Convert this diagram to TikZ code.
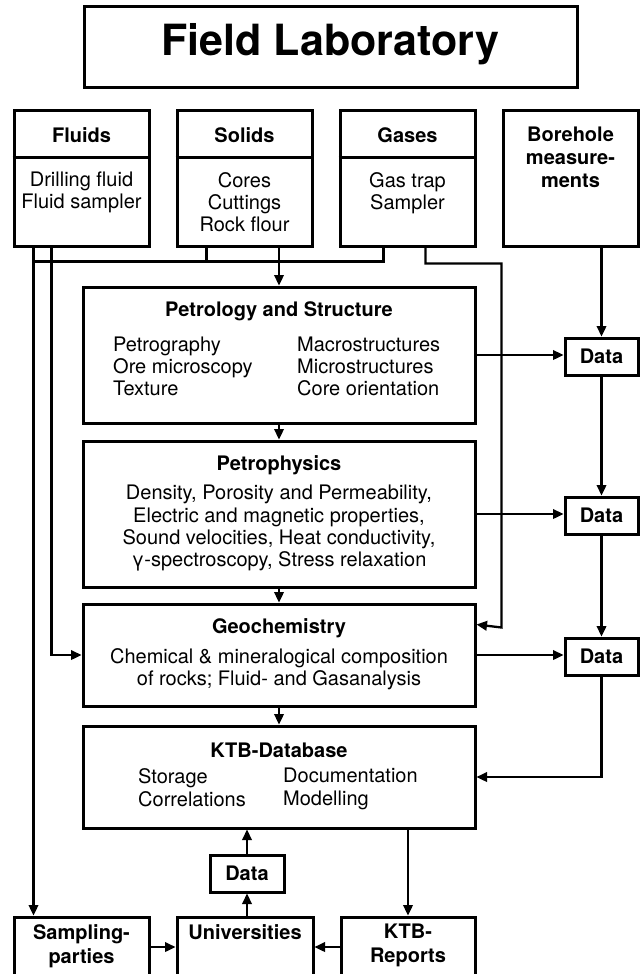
\documentclass[tikz,border=0pt]{standalone}
\usepackage{fontspec}
\setmainfont{TeX Gyre Heros}
\usetikzlibrary{arrows.meta,calc}

\begin{document}
\begin{tikzpicture}[
      x=1pt, y=-1pt,
      font=\fontsize{20}{22}\selectfont,
      box/.style={rectangle, draw, line width=3pt, inner sep=0pt},
      rule/.style={draw, line width=3pt},
      src/.style={box, minimum width=135pt, minimum height=136pt},
      lab/.style={box, minimum width=392pt},
      datbox/.style={box, minimum width=73pt, minimum height=37pt, font=\fontsize{20}{22}\selectfont\bfseries},
      sink/.style={box, minimum height=60pt},
      hd/.style={inner sep=0pt, align=center, anchor=north, execute at begin node={\rule{0pt}{15pt}},
                 font=\fontsize{20}{23}\selectfont\bfseries},
      txt/.style={inner sep=0pt, align=center, anchor=north, execute at begin node={\rule{0pt}{15pt}}},
      col/.style={inner sep=0pt, align=left, anchor=north west, execute at begin node={\rule{0pt}{15pt}}},
      line/.style={draw, line width=2.3pt, -{Triangle[length=10.5pt,width=9.5pt]}},
      wire/.style={draw, line width=2.3pt}
    ]
    \useasboundingbox (0,0) rectangle (640,974);
    \node[box, minimum width=493pt, minimum height=80pt, text depth=15pt,
          font=\fontsize{43}{48}\selectfont\bfseries] (title) at (330.5,47) {Field Laboratory};
    \foreach \nm/\xc/\ttl/\lst in {fluids/81.5/Fluids/{Drilling fluid\\Fluid sampler},
        solids/244.5/Solids/{Cores\\Cuttings\\Rock flour},
        gases/407.5/Gases/{Gas trap\\Sampler}} {
        \node[src] (\nm) at (\xc,178) {};
        \draw[rule] ($(\nm.north west)+(0,49)$) -- ($(\nm.north east)+(0,49)$);
        \node[hd] (\nm Hd) at (\xc,127) {\ttl};
        \node[txt] (\nm Tx) at (\xc,172) {\lst};
    }
    \node[src] (borehole) at (570.5,178) {};
    \node[hd] (boreholeHd) at (570.5,127) {Borehole\\measure-\\ments};

    \node[lab, minimum height=136pt] (petro) at (279,355) {};
    \node[hd] (petroHd) at (279,301.5) {Petrology and Structure};
    \node[col] (petroL) at (113,337) {Petrography\\Ore microscopy\\Texture};
    \node[col] (petroR) at (297,337) {Macrostructures\\Microstructures\\Core orientation};

    \node[lab, minimum height=146pt] (physics) at (279,514) {};
    \node[hd] (physicsHd) at (279,455) {Petrophysics};
    \node[txt, font=\fontsize{20}{22.3}\selectfont] (physicsTx) at (279,485)
        {Density, Porosity and Permeability,\\Electric and magnetic properties,\\Sound velocities, Heat conductivity,\\γ-spectroscopy, Stress relaxation};

    \node[lab, minimum height=102pt] (geochem) at (279,655) {};
    \node[hd] (geochemHd) at (279,618) {Geochemistry};
    \node[txt] (geochemTx) at (279,648) {Chemical \& mineralogical composition\\of rocks; Fluid- and Gasanalysis};

    \node[lab, minimum height=102pt] (db) at (279,777) {};
    \node[hd] (dbHd) at (279,742) {KTB-Database};
    \node[col, font=\fontsize{20}{23}\selectfont] (dbL) at (138,768) {Storage\\Correlations};
    \node[col, font=\fontsize{20}{23}\selectfont] (dbR) at (283,768) {Documentation\\Modelling};

    \node[datbox] (data1) at (601.5,356.5) {Data};
    \node[datbox] (data2) at (601.5,515.5) {Data};
    \node[datbox] (data3) at (601.5,656.5) {Data};
    \node[datbox, minimum width=74pt] (data4) at (247,873.5) {Data};

    \node[sink, minimum width=135pt] (sampling) at (81.5,947) {};
    \node[hd, font=\fontsize{20}{24}\selectfont\bfseries] (samplingHd) at (81.5,924) {Sampling-\\parties};
    \node[sink, minimum width=136pt] (univ) at (245,947) {};
    \node[hd] (univHd) at (245,924) {Universities};
    \node[sink, minimum width=134pt] (reports) at (408,947) {};
    \node[hd, font=\fontsize{20}{24}\selectfont\bfseries] (reportsHd) at (408,924) {KTB-\\Reports};

    \draw[line] ($(fluids.south west)+(21,0)$) -- ($(sampling.north west)+(21,0)$);
    \draw[line] ($(fluids.south west)+(39,0)$) |- (geochem.west);
    \draw[wire] ($(fluids.south west)+(21,14)$) -- ($(gases.south west)+(45,14)$) -- ($(gases.south west)+(45,0)$);
    \draw[wire] ($(solids.south west)+(31,0)$) -- ++(0,14);
    \draw[line] (solids.south -| petro.north) -- (petro.north);
    \draw[line] ($(gases.south west)+(87,0)$) -- ++(0,16) -| ($(borehole.south west)+(0,380)$) -- ($(geochem.north east)+(0,22)$);
    \draw[line] (borehole.south -| data1.north) -- (data1.north);
    \draw[line] (petro.east) -- (petro.east -| data1.west);
    \draw[line] (physics.east) -- (physics.east -| data2.west);
    \draw[line] (geochem.east) -- (geochem.east -| data3.west);
    \draw[line] (data1) -- (data2);
    \draw[line] (data2) -- (data3);
    \draw[line] (data3.south) |- (db.east);
    \draw[line] (petro) -- (physics);
    \draw[line] (physics) -- (geochem);
    \draw[line] (geochem) -- (db);
    \draw[line] (db.south -| reports.north) -- (reports.north);
    \draw[line] (univ.north -| data4.south) -- (data4.south);
    \draw[line] (data4.north) -- (data4.north |- db.south);
    \draw[line] (sampling) -- (univ);
    \draw[line] (reports) -- (univ);
  \end{tikzpicture}
\end{document}
